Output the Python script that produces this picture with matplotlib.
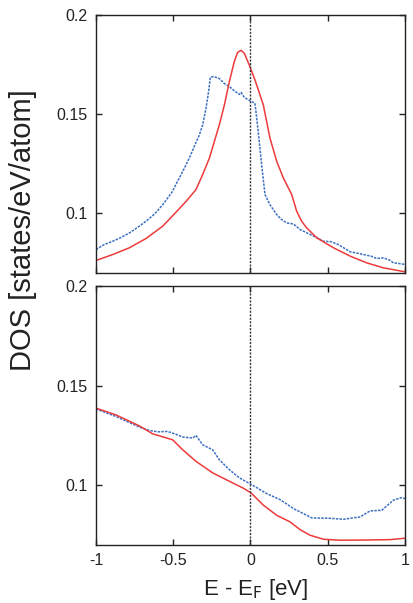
import matplotlib
matplotlib.use("Agg")
import matplotlib.pyplot as plt

plt.rcParams['font.family'] = ['Liberation Sans', 'DejaVu Sans']

# Top panel
top_red_E = [-1.0, -0.892, -0.784, -0.676, -0.568, -0.497, -0.417, -0.353, -0.31, -0.266,
             -0.234, -0.202, -0.169, -0.137, -0.105, -0.083, -0.061, -0.04, -0.008, 0.029,
             0.083, 0.126, 0.17, 0.213, 0.267, 0.299, 0.33, 0.364, 0.429, 0.537, 0.645, 0.753,
             0.86, 1.0]
top_red_v = [0.0763, 0.0793, 0.0827, 0.0874, 0.0936, 0.0994, 0.1061, 0.112, 0.1195, 0.1279,
             0.1363, 0.1446, 0.1547, 0.1664, 0.1765, 0.1812, 0.1822, 0.1807, 0.1748, 0.1673,
             0.1547, 0.138, 0.1262, 0.1178, 0.1095, 0.1011, 0.0962, 0.0927, 0.0877, 0.0827,
             0.0785, 0.0751, 0.0726, 0.0706]

top_blue_E = [-1.0, -0.95, -0.892, -0.84, -0.784, -0.73, -0.676, -0.62, -0.568, -0.51,
              -0.461, -0.43, -0.396, -0.36, -0.331, -0.31, -0.288, -0.27, -0.26, -0.24,
              -0.202, -0.17, -0.137, -0.1, -0.072, -0.061, -0.04, -0.008, 0.029, 0.05,
              0.072, 0.094, 0.126, 0.17, 0.2, 0.235, 0.278, 0.321, 0.386, 0.43, 0.472,
              0.52, 0.569, 0.645, 0.69, 0.731, 0.78, 0.817, 0.861, 0.9, 0.925, 0.96, 1.0]
top_blue_v = [0.0818, 0.0842, 0.086, 0.0878, 0.0902, 0.093, 0.0961, 0.0998, 0.1044, 0.1105,
              0.1178, 0.1225, 0.1279, 0.1345, 0.1396, 0.1445, 0.153, 0.162, 0.1686, 0.1690,
              0.168, 0.1655, 0.1639, 0.1615, 0.160, 0.161, 0.1585, 0.157, 0.1555, 0.1413,
              0.1245, 0.1095, 0.1044, 0.0994, 0.097, 0.0952, 0.0947, 0.0919, 0.0894, 0.0878,
              0.086, 0.0858, 0.0843, 0.0807, 0.0800, 0.0793, 0.0785, 0.0773, 0.0776, 0.0765,
              0.0751, 0.0748, 0.0743]

# Bottom panel
bot_red_E = [-1.0, -0.871, -0.72, -0.633, -0.547, -0.504, -0.439, -0.353, -0.245, -0.137,
             -0.051, 0.003, 0.083, 0.17, 0.256, 0.321, 0.386, 0.472, 0.58, 0.753, 0.904, 1.0]
bot_red_v = [0.1387, 0.1353, 0.1298, 0.1258, 0.1238, 0.1228, 0.1178, 0.112, 0.1062, 0.102,
             0.0987, 0.0962, 0.090, 0.0849, 0.0816, 0.0777, 0.0749, 0.0729, 0.0724, 0.0725,
             0.0727, 0.0734]

bot_blue_E = [-1.0, -0.871, -0.72, -0.655, -0.6, -0.536, -0.48, -0.439, -0.374, -0.353,
              -0.31, -0.245, -0.202, -0.137, -0.072, 0.003, 0.105, 0.191, 0.278, 0.397,
              0.515, 0.601, 0.709, 0.774, 0.849, 0.925, 0.979, 1.0]
bot_blue_v = [0.1383, 0.1345, 0.1292, 0.1275, 0.1268, 0.127, 0.1255, 0.1242, 0.1237, 0.125,
              0.1203, 0.1178, 0.1128, 0.1078, 0.1037, 0.1005, 0.0958, 0.0928, 0.0883, 0.0836,
              0.0834, 0.0829, 0.0841, 0.0871, 0.0874, 0.0925, 0.0938, 0.0933]

xticks = [-1, -0.5, 0, 0.5, 1]
xticklabels = ['-1', '-0.5', '0', '0.5', '1']
yticks = [0.1, 0.15, 0.2]
yticklabels = ['0.1', '0.15', '0.2']

RED = '#ee3a3a'
BLUE = '#3c6fc2'

fig = plt.figure(figsize=(4.14, 6.03), dpi=100)
ax1 = fig.add_axes([96/414, 1-273/603, 309/414, 258/603])
ax2 = fig.add_axes([96/414, 1-545/603, 309/414, 259/603])

for ax, (rE, rv, bE, bv) in zip([ax1, ax2], [(top_red_E, top_red_v, top_blue_E, top_blue_v),
                                             (bot_red_E, bot_red_v, bot_blue_E, bot_blue_v)]):
    ax.plot(bE, bv, color=BLUE, lw=1.1, ls=(0, (1.6, 0.8)))
    ax.plot(rE, rv, color=RED, lw=1.1)
    ax.axvline(0, color='#333333', lw=1.0, ls=(0, (1.5, 1)))
    ax.set_xlim(-1, 1)
    ax.set_ylim(0.07, 0.2)
    ax.set_xticks(xticks)
    ax.set_yticks(yticks)
    ax.set_yticklabels(yticklabels)
    ax.tick_params(direction='in', top=True, right=True, length=4, width=1,
                   labelsize=11.5, colors='#222222', pad=6)
    for s in ax.spines.values():
        s.set_linewidth(1.0)
        s.set_color('#222222')

ax1.set_xticklabels([])
ax2.set_xticklabels(xticklabels)

fig.text(256/414, 1-595/603, r'E - E$_\mathrm{F}$ [eV]', ha='center', va='baseline',
         fontsize=16, color='#222222')
fig.text(23/414, 1-230/603, 'DOS [states/eV/atom]', rotation=90, ha='center', va='center',
         fontsize=21, color='#222222')

fig.savefig('out.png', dpi=100)
